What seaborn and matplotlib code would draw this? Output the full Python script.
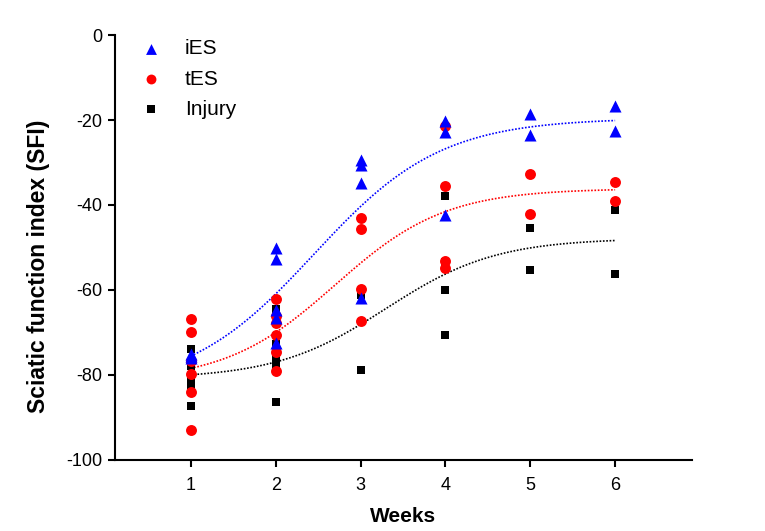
import numpy as np
import pandas as pd
import seaborn as sns
import matplotlib
matplotlib.use("Agg")
import matplotlib.pyplot as plt

sns.set_theme(style="ticks")
plt.rcParams['font.family'] = ['Liberation Sans', 'DejaVu Sans']
plt.rcParams['axes.unicode_minus'] = False

# data (SFI per week)
groups = ["iES", "tES", "Injury"]
ies_weeks = [1, 1, 1, 2, 2, 2, 2, 2, 3, 3, 3, 3, 4, 4, 4, 5, 5, 6, 6]
ies_sfi = [-75, -75.5, -76, -50.2, -52.7, -64.7, -66.5, -72.5,
           -29.5, -30.5, -34.8, -62, -20.3, -22.8, -42.4, -18.6, -23.5, -16.8, -22.5]
tes_weeks = [1, 1, 1, 1, 1, 1, 2, 2, 2, 2, 2, 2, 3, 3, 3, 3, 4, 4, 4, 4, 5, 5, 6, 6]
tes_sfi = [-66.8, -69.9, -76.8, -79.8, -84, -92.9,
           -62.1, -66.2, -67.7, -70.6, -74.6, -79.2,
           -43, -45.6, -59.8, -67.4, -21.3, -35.5, -53.2, -54.8,
           -32.7, -42.1, -34.5, -39]
inj_weeks = [1, 1, 1, 1, 1, 1, 2, 2, 2, 2, 2, 2, 3, 3, 4, 4, 4, 4, 5, 5, 6, 6]
inj_sfi = [-73.9, -77.8, -80.3, -81.5, -82.8, -87.3,
           -64.5, -72.7, -76.3, -77.5, -78.5, -86.3,
           -61.3, -78.8, -37.9, -53.5, -59.9, -70.7,
           -45.5, -55.4, -41.3, -56.2]

df = pd.concat([
    pd.DataFrame({"week": ies_weeks, "sfi": ies_sfi, "group": "iES"}),
    pd.DataFrame({"week": tes_weeks, "sfi": tes_sfi, "group": "tES"}),
    pd.DataFrame({"week": inj_weeks, "sfi": inj_sfi, "group": "Injury"}),
])

colors = {"iES": "#0000ff", "tES": "#ff0000", "Injury": "#000000"}
markers = {"iES": "^", "tES": "o", "Injury": "s"}
msizes = {"iES": 75, "tES": 62, "Injury": 38}


def fit_sigmoid(x, y):
    # Boltzmann sigmoid, grid search on x0/slope, least squares on bottom/top
    x = np.asarray(x, float)
    y = np.asarray(y, float)
    best = None
    for x0 in np.linspace(0.5, 6, 111):
        for dx in np.linspace(0.2, 3, 57):
            s = 1 / (1 + np.exp((x0 - x) / dx))
            A = np.column_stack([1 - s, s])
            coef, *_ = np.linalg.lstsq(A, y, rcond=None)
            sse = np.sum((A @ coef - y) ** 2)
            if best is None or sse < best[0]:
                best = (sse, x0, dx, coef)
    _, x0, dx, (bot, top) = best
    return lambda t: bot + (top - bot) / (1 + np.exp((x0 - t) / dx))


fig, ax = plt.subplots(figsize=(7.65, 5.31), dpi=100)
fig.subplots_adjust(left=0.150, right=0.905, bottom=0.134, top=0.934)

xs = np.linspace(1, 6, 200)
for g in groups:
    sub = df[df["group"] == g]
    f = fit_sigmoid(sub["week"], sub["sfi"])
    ax.plot(xs, f(xs), color=colors[g], linestyle=(0, (1, 1)), linewidth=1.2)

for g in ["Injury", "tES", "iES"]:
    sub = df[df["group"] == g]
    sns.scatterplot(data=sub, x="week", y="sfi", color=colors[g],
                    marker=markers[g], s=msizes[g], linewidth=0,
                    label=g, ax=ax, zorder=3)

handles, labels = ax.get_legend_handles_labels()
order = [labels.index(g) for g in groups]
leg = ax.legend([handles[i] for i in order], groups, loc="upper left",
                bbox_to_anchor=(-0.005, 1.034), frameon=False, fontsize=15,
                handletextpad=0.6, labelspacing=0.54, markerscale=0.9)
for t in leg.get_texts():
    t.set_color("black")

ax.set_xlim(0.104, 6.91)
ax.set_ylim(-100, 0)
ax.set_xticks([1, 2, 3, 4, 5, 6])
ax.set_yticks([-100, -80, -60, -40, -20, 0])
ax.set_xlabel("Weeks", fontsize=15, fontweight="bold", labelpad=10, color="black")
ax.set_ylabel("Sciatic function index (SFI)", fontsize=16.5, fontweight="bold", color="black")
ax.yaxis.set_label_coords(-0.112, 0.455)
ax.tick_params(axis="both", labelsize=13, length=5, width=1.5, direction="out",
               colors="black")
ax.tick_params(axis="x", pad=7)
ax.tick_params(axis="y", pad=4)
for sp in ["left", "bottom"]:
    ax.spines[sp].set_linewidth(1.5)
    ax.spines[sp].set_color("black")
sns.despine(ax=ax)

fig.savefig("out.png", dpi=100)
